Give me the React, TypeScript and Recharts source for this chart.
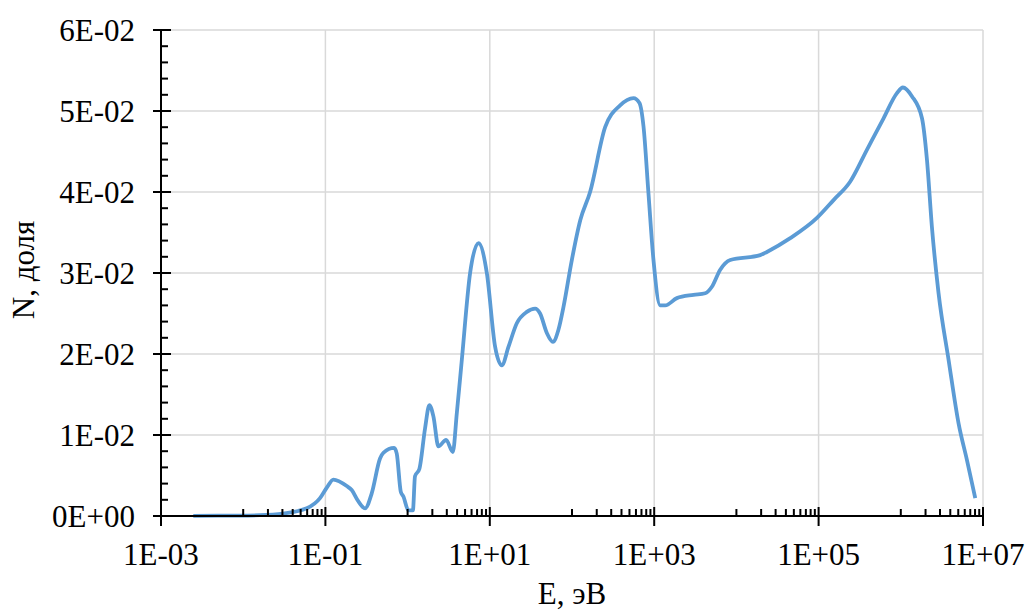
import React from 'react';
import { LineChart, Line, XAxis, YAxis, ReferenceLine, Label } from 'recharts';

// Energy, eV
const energy = [
  0.00247, 0.0069, 0.016, 0.0306, 0.0593, 0.086, 0.104, 0.125, 0.182, 0.209,
  0.252, 0.304, 0.366, 0.462, 0.507, 0.686, 0.738, 0.826, 0.889, 1.02,
  1.16, 1.23, 1.39, 1.63, 1.84, 2.06, 2.37, 2.94, 3.55, 3.97,
  4.57, 5.76, 7.28, 9.2, 11.6, 14.0, 16.9, 21.3, 28.2, 35.6,
  40.9, 49.4, 58.5, 68.4, 78.7, 99.5, 126, 166, 253, 385,
  560, 662, 741, 852, 980, 1183, 1361, 1888, 3006, 4169,
  5035, 6353, 8414, 19500, 23500, 45200, 95500, 152000, 243000, 387000,
  617000, 898000, 1060000, 1370000, 1810000, 2080000, 2390000, 2880000, 3810000, 5050000,
  6380000, 8050000,
];

// N, fraction
const share = [
  0.00002, 0.00005, 0.0001, 0.0003, 0.00095, 0.0022, 0.0035, 0.0045, 0.0037, 0.0032,
  0.0018, 0.00095, 0.0028, 0.0071, 0.0078, 0.0084, 0.0077, 0.003, 0.0024, 0.0007,
  0.0007, 0.0049, 0.0058, 0.0108, 0.0137, 0.0123, 0.0086, 0.0094, 0.0079, 0.0127,
  0.0193, 0.030, 0.0337, 0.030, 0.0209, 0.0186, 0.0209, 0.0238, 0.0252, 0.0256,
  0.025, 0.0226, 0.0215, 0.023, 0.0258, 0.0316, 0.0365, 0.040, 0.048, 0.0507,
  0.0516, 0.051, 0.0481, 0.0398, 0.0316, 0.026, 0.026, 0.0269, 0.0273, 0.0275,
  0.0283, 0.0304, 0.0316, 0.0322, 0.0326, 0.0343, 0.0368, 0.039, 0.0413, 0.0452,
  0.0491, 0.0522, 0.0529, 0.0518, 0.0491, 0.044, 0.0357, 0.0275, 0.0193, 0.0114,
  0.0069, 0.0022,
];

const xMajorTicks = [1e-3, 1e-1, 1e1, 1e3, 1e5, 1e7];
const yMajorTicks = [0, 0.01, 0.02, 0.03, 0.04, 0.05, 0.06];
const yMinorStep = 0.002;

const xTitle = 'E, эВ';
const yTitle = 'N, доля';

const data = energy.map((e, i) => ({ e, n: share[i] }));

const xMinorTicks: number[] = [];
for (let i = 0; i < xMajorTicks.length - 1; i++) {
  for (let k = 1; k <= 9; k++) xMinorTicks.push(xMajorTicks[i] * 10 * k);
}
const xAllTicks = [...xMajorTicks, ...xMinorTicks].sort((a, b) => a - b);

const yAllTicks: number[] = [];
for (let i = 0; i <= Math.round(0.06 / yMinorStep); i++) yAllTicks.push(+(i * yMinorStep).toFixed(4));

const FONT = '"Liberation Serif", "Times New Roman", serif';
const FS = 31;

function sci(v: number): string {
  if (v === 0) return '0E+00';
  let e = Math.floor(Math.log10(Math.abs(v)) + 1e-9);
  let m = Math.round(v / Math.pow(10, e));
  if (m >= 10) { m = m / 10; e += 1; }
  return `${m}E${e < 0 ? '-' : '+'}${String(Math.abs(e)).padStart(2, '0')}`;
}

const isXMajor = (v: number) => xMajorTicks.some((t) => Math.abs(Math.log10(t) - Math.log10(v)) < 1e-6);
const isYMajor = (v: number) => yMajorTicks.some((t) => Math.abs(t - v) < 1e-9);

const XTick = (props: any) => {
  const { x, y, payload } = props;
  const v = payload.value;
  const major = isXMajor(v);
  return (
    <g>
      <line x1={x} x2={x} y1={major ? y - 9 : y - 7} y2={major ? y + 10 : y} stroke="#000" strokeWidth={2} />
      {major && (
        <text x={x} y={y + 49} textAnchor="middle" fontSize={FS} fontFamily={FONT} fill="#000">
          {sci(v)}
        </text>
      )}
    </g>
  );
};

const YTick = (props: any) => {
  const { x, y, payload } = props;
  const v = payload.value;
  const major = isYMajor(v);
  return (
    <g>
      <line x1={major ? x - 8 : x} x2={major ? x + 10 : x + 7} y1={y} y2={y} stroke="#000" strokeWidth={2} />
      {major && (
        <text x={x - 26} y={y + 11} textAnchor="end" fontSize={FS} fontFamily={FONT} fill="#000">
          {sci(v)}
        </text>
      )}
    </g>
  );
};

export default function App() {
  return (
    <div style={{ position: 'absolute', left: 0, top: 0, background: '#fff' }}>
      <LineChart width={1027} height={610} data={data} margin={{ top: 30, right: 44, left: 0, bottom: 0 }}>
        {yMajorTicks.filter((t) => t > 0).map((t) => (
          <ReferenceLine key={'h' + t} y={t} stroke="#d9d9d9" strokeWidth={1.5} />
        ))}
        {xMajorTicks.filter((t) => t > xMajorTicks[0]).map((t) => (
          <ReferenceLine key={'v' + t} x={t} stroke="#d9d9d9" strokeWidth={1.5} />
        ))}
        <XAxis
          dataKey="e"
          type="number"
          scale="log"
          domain={[xMajorTicks[0], xMajorTicks[xMajorTicks.length - 1]]}
          allowDataOverflow
          ticks={xAllTicks}
          interval={0}
          tickSize={0}
          tickMargin={0}
          tickLine={false}
          tick={XTick}
          axisLine={{ stroke: '#000', strokeWidth: 2 }}
          height={94}
        >
          <Label
            content={(p: any) => {
              const vb = p.viewBox;
              return (
                <text x={vb.x + vb.width / 2} y={vb.y + vb.height - 6} textAnchor="middle" fontSize={FS} fontFamily={FONT} fill="#000">
                  {xTitle}
                </text>
              );
            }}
          />
        </XAxis>
        <YAxis
          type="number"
          domain={[0, 0.06]}
          ticks={yAllTicks}
          interval={0}
          tickSize={0}
          tickMargin={0}
          tickLine={false}
          tick={YTick}
          axisLine={{ stroke: '#000', strokeWidth: 2 }}
          width={161}
        >
          <Label
            content={(p: any) => {
              const vb = p.viewBox;
              const cx = vb.x + 34;
              const cy = vb.y + vb.height / 2 - 3;
              return (
                <text x={cx} y={cy} transform={`rotate(-90 ${cx} ${cy})`} textAnchor="middle" fontSize={FS} fontFamily={FONT} fill="#000">
                  {yTitle}
                </text>
              );
            }}
          />
        </YAxis>
        <Line type="monotone" dataKey="n" stroke="#5b9bd5" strokeWidth={3.8} dot={false} isAnimationActive={false} />
      </LineChart>
    </div>
  );
}
